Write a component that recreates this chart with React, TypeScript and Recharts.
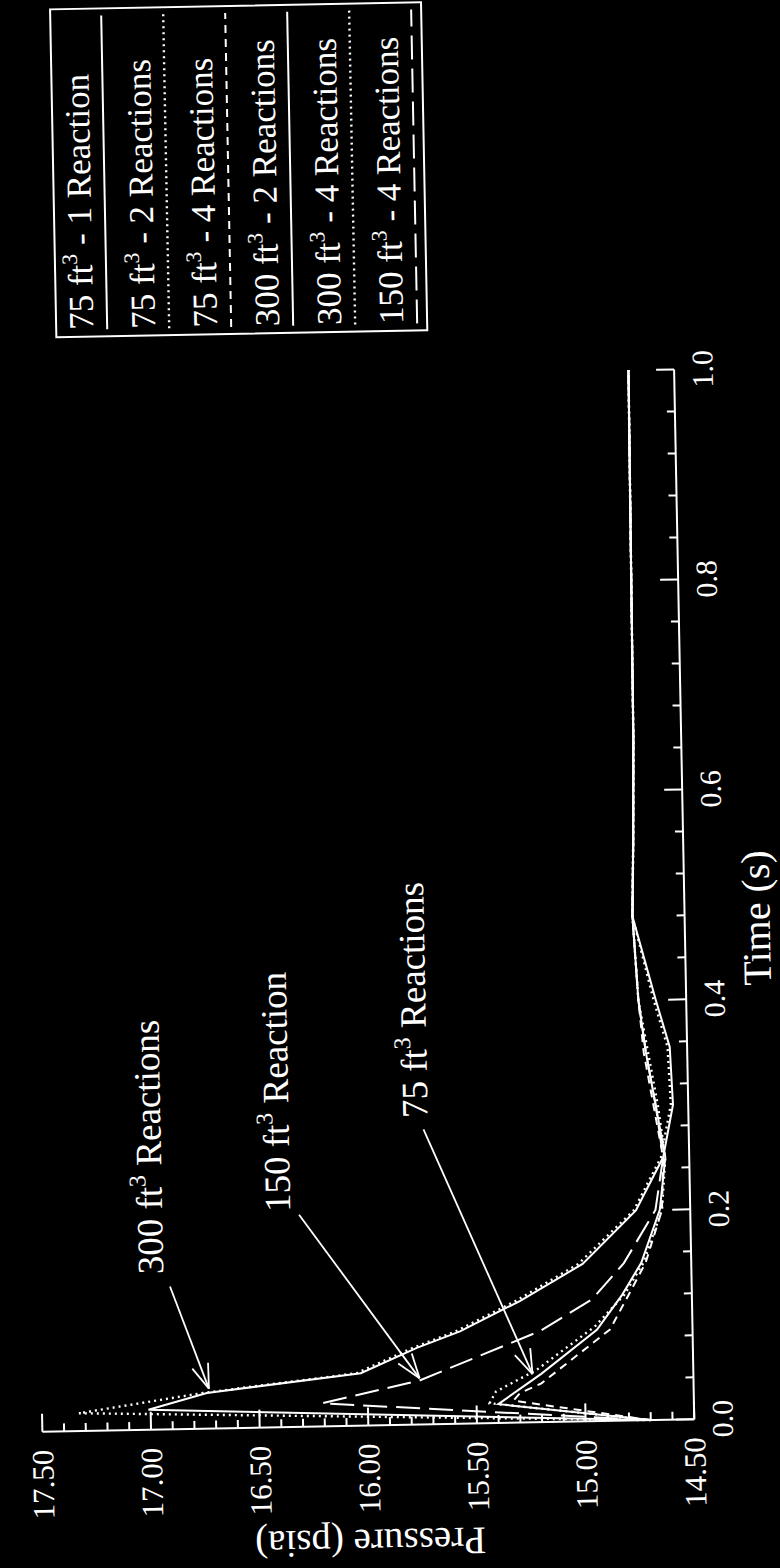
import React from 'react';
import { LineChart, Line, XAxis, YAxis, ReferenceLine, ReferenceDot, Legend } from 'recharts';

// Pressure transient after ignition, for three vessel volumes.
// The whole figure is a scanned negative turned on its side, so the chart is
// drawn normally and then rotated -90deg (plus the scan's small skew).

const FONT = '"Liberation Serif", "Times New Roman", Times, serif';
const INK = '#ffffff';

// time (s) / pressure (psia)
const vol75r1 = [
  { t: 0, p: 14.7 }, { t: 0.018, p: 15.4 }, { t: 0.046, p: 15.2 }, { t: 0.087, p: 14.94 },
  { t: 0.12, p: 14.82 }, { t: 0.15, p: 14.73 }, { t: 0.2, p: 14.64 }, { t: 0.25, p: 14.61 },
  { t: 0.3, p: 14.65 }, { t: 0.35, p: 14.69 }, { t: 0.4, p: 14.72 }, { t: 0.48, p: 14.74 },
  { t: 0.55, p: 14.73 }, { t: 0.65, p: 14.72 }, { t: 1.0, p: 14.71 },
];
const vol75r2 = [
  { t: 0, p: 14.7 }, { t: 0.019, p: 15.44 }, { t: 0.03, p: 15.41 }, { t: 0.05, p: 15.22 },
  { t: 0.09, p: 14.95 }, { t: 0.12, p: 14.81 }, { t: 0.15, p: 14.72 }, { t: 0.2, p: 14.63 },
  { t: 0.25, p: 14.61 }, { t: 0.3, p: 14.64 }, { t: 0.35, p: 14.68 }, { t: 0.4, p: 14.72 },
  { t: 0.48, p: 14.74 }, { t: 0.55, p: 14.73 }, { t: 0.65, p: 14.72 }, { t: 1.0, p: 14.71 },
];
const vol75r4 = [
  { t: 0, p: 14.7 }, { t: 0.021, p: 15.33 }, { t: 0.028, p: 15.3 }, { t: 0.037, p: 15.2 },
  { t: 0.087, p: 14.88 }, { t: 0.12, p: 14.79 }, { t: 0.15, p: 14.71 }, { t: 0.2, p: 14.63 },
  { t: 0.25, p: 14.62 }, { t: 0.3, p: 14.66 }, { t: 0.35, p: 14.7 }, { t: 0.4, p: 14.72 },
  { t: 0.48, p: 14.74 }, { t: 0.55, p: 14.73 }, { t: 0.65, p: 14.72 }, { t: 1.0, p: 14.71 },
];
const vol300r2 = [
  { t: 0, p: 14.7 }, { t: 0.019, p: 17.01 }, { t: 0.034, p: 16.74 }, { t: 0.05, p: 16.03 },
  { t: 0.073, p: 15.77 }, { t: 0.088, p: 15.57 }, { t: 0.116, p: 15.29 }, { t: 0.15, p: 15.0 },
  { t: 0.2, p: 14.75 }, { t: 0.25, p: 14.62 }, { t: 0.3, p: 14.57 }, { t: 0.355, p: 14.58 },
  { t: 0.4, p: 14.64 }, { t: 0.48, p: 14.74 }, { t: 0.55, p: 14.73 }, { t: 0.65, p: 14.72 },
  { t: 1.0, p: 14.71 },
];
const vol300r4 = [
  { t: 0, p: 14.7 }, { t: 0.017, p: 17.33 }, { t: 0.034, p: 16.76 }, { t: 0.05, p: 16.05 },
  { t: 0.073, p: 15.79 }, { t: 0.088, p: 15.59 }, { t: 0.116, p: 15.31 }, { t: 0.15, p: 15.02 },
  { t: 0.2, p: 14.76 }, { t: 0.25, p: 14.63 }, { t: 0.3, p: 14.58 }, { t: 0.355, p: 14.59 },
  { t: 0.4, p: 14.65 }, { t: 0.48, p: 14.74 }, { t: 0.55, p: 14.73 }, { t: 0.65, p: 14.72 },
  { t: 1.0, p: 14.71 },
];
const vol150r4 = [
  { t: 0, p: 14.7 }, { t: 0.022, p: 16.21 }, { t: 0.042, p: 15.76 }, { t: 0.087, p: 15.2 },
  { t: 0.116, p: 14.96 }, { t: 0.15, p: 14.81 }, { t: 0.2, p: 14.66 }, { t: 0.25, p: 14.62 },
  { t: 0.3, p: 14.65 }, { t: 0.35, p: 14.69 }, { t: 0.4, p: 14.72 }, { t: 0.48, p: 14.74 },
  { t: 0.55, p: 14.73 }, { t: 0.65, p: 14.72 }, { t: 1.0, p: 14.71 },
];

const series = [
  { id: 'v75r1', vol: '75', tail: ' - 1 Reaction', data: vol75r1, dash: undefined, width: 2 },
  { id: 'v75r2', vol: '75', tail: ' - 2 Reactions', data: vol75r2, dash: '2 4', width: 2.4 },
  { id: 'v75r4', vol: '75', tail: ' - 4 Reactions', data: vol75r4, dash: '8 6', width: 2 },
  { id: 'v300r2', vol: '300', tail: ' - 2 Reactions', data: vol300r2, dash: undefined, width: 2 },
  { id: 'v300r4', vol: '300', tail: ' - 4 Reactions', data: vol300r4, dash: '2 4', width: 2.4 },
  { id: 'v150r4', vol: '150', tail: ' - 4 Reactions', data: vol150r4, dash: '24 9', width: 2 },
];

// callouts: text start, arrow tail and arrow head, all in data units
const notes = [
  { vol: '300', text: 'Reactions', t: 0.148, p: 16.93, from: { t: 0.136, p: 16.9 }, to: { t: 0.038, p: 16.73 } },
  { vol: '150', text: 'Reaction', t: 0.205, p: 16.34, from: { t: 0.202, p: 16.3 }, to: { t: 0.044, p: 15.76 } },
  { vol: '75', text: 'Reactions', t: 0.292, p: 15.7, from: { t: 0.281, p: 15.72 }, to: { t: 0.046, p: 15.24 } },
];

const timeTicks = Array.from({ length: 26 }, (_, i) => +(i * 0.04).toFixed(2));
const pressureTicks = Array.from({ length: 31 }, (_, i) => +(14.5 + i * 0.1).toFixed(1));

const isMajor = (v: number, step: number) => Math.abs(v / step - Math.round(v / step)) < 1e-6;
const MAJOR = 18;
const MINOR = 8;

function BottomTick({ x, y, payload }: any) {
  const major = isMajor(payload.value, 0.2);
  return (
    <g>
      <line x1={x} y1={y} x2={x} y2={y - (major ? MAJOR : MINOR)} stroke={INK} strokeWidth={2} />
      {major && (
        <text x={x} y={y + 28} textAnchor="middle" dominantBaseline="central"
          fill={INK} fontSize={30} fontFamily={FONT}>
          {payload.value.toFixed(1)}
        </text>
      )}
    </g>
  );
}

function TopTick({ x, y, payload }: any) {
  const major = isMajor(payload.value, 0.2);
  return <line x1={x} y1={y} x2={x} y2={y + (major ? MAJOR : MINOR)} stroke={INK} strokeWidth={2} />;
}

function LeftTick({ x, y, payload }: any) {
  const major = isMajor(payload.value, 0.5);
  return (
    <g>
      <line x1={x} y1={y} x2={x + (major ? MAJOR : MINOR)} y2={y} stroke={INK} strokeWidth={2} />
      {major && (
        <text x={x - 18} y={y} textAnchor="end" dominantBaseline="central"
          fill={INK} fontSize={31} fontFamily={FONT}>
          {payload.value.toFixed(2)}
        </text>
      )}
    </g>
  );
}

function RightTick({ x, y, payload }: any) {
  const major = isMajor(payload.value, 0.5);
  return <line x1={x} y1={y} x2={x - (major ? MAJOR : MINOR)} y2={y} stroke={INK} strokeWidth={2} />;
}

function Arrow({ x1, y1, x2, y2 }: any) {
  const ang = Math.atan2(y2 - y1, x2 - x1);
  const len = 26;
  const a1 = ang + Math.PI - 0.33;
  const a2 = ang + Math.PI + 0.33;
  return (
    <g stroke={INK} strokeWidth={1.8} fill="none">
      <line x1={x1} y1={y1} x2={x2} y2={y2} />
      <line x1={x2} y1={y2} x2={x2 + len * Math.cos(a1)} y2={y2 + len * Math.sin(a1)} />
      <line x1={x2} y1={y2} x2={x2 + len * Math.cos(a2)} y2={y2 + len * Math.sin(a2)} />
    </g>
  );
}

function NoteText({ cx, cy, vol, text }: any) {
  return (
    <text x={cx} y={cy} fill={INK} fontSize={37} fontFamily={FONT} style={{ whiteSpace: 'pre' }}>
      {vol} ft<tspan dy={-16} fontSize={24}>3</tspan><tspan dy={16}>{' ' + text}</tspan>
    </text>
  );
}

function LegendBox() {
  const W = 330;
  const H = 373;
  const row = 62;
  return (
    <svg width={W} height={H} style={{ display: 'block', overflow: 'visible' }}>
      <rect x={1} y={1} width={W - 2} height={H - 2} fill="none" stroke={INK} strokeWidth={2} />
      {series.map((s, i) => (
        <g key={s.id}>
          <text x={8} y={row * i + 38} fill={INK} fontSize={35} fontFamily={FONT} style={{ whiteSpace: 'pre' }}>
            {s.vol} ft<tspan dy={-15} fontSize={22}>3</tspan><tspan dy={15}>{s.tail}</tspan>
          </text>
          <line x1={8} x2={W - 8} y1={row * i + 52} y2={row * i + 52}
            stroke={INK} strokeWidth={s.width} strokeDasharray={s.dash} />
        </g>
      ))}
    </svg>
  );
}

export default function App() {
  return (
    <div style={{ position: 'absolute', left: 0, top: 0, width: 780, height: 1568, background: '#000', overflow: 'hidden' }}>
      <div style={{
        position: 'absolute', left: -394, top: 394, width: 1568, height: 780,
        transform: 'rotate(-91.1deg)', transformOrigin: '50% 50%',
      }}>
        <LineChart width={1568} height={780} margin={{ top: 30, right: 375, bottom: 0, left: 0 }}>
          <XAxis xAxisId="b" type="number" dataKey="t" domain={[0, 1]} ticks={timeTicks} interval={0}
            height={98} tickLine={false} tickSize={0} tickMargin={0} tick={<BottomTick />}
            axisLine={{ stroke: INK, strokeWidth: 2 }}
            label={{ value: 'Time (s)', position: 'insideBottom', offset: 13, dx: -25,
              fill: INK, fontSize: 40, fontFamily: FONT }} />
          <XAxis xAxisId="t" orientation="top" type="number" dataKey="t" domain={[0, 1]} ticks={timeTicks}
            interval={0} height={0} tickLine={false} tickSize={0} tickMargin={0} tick={<TopTick />}
            axisLine={{ stroke: INK, strokeWidth: 2 }} />
          <YAxis yAxisId="l" type="number" domain={[14.5, 17.5]} ticks={pressureTicks} interval={0}
            width={143} tickLine={false} tickSize={0} tickMargin={0} tick={<LeftTick />}
            axisLine={{ stroke: INK, strokeWidth: 2 }}
            label={{ value: 'Pressure (psia)', angle: -90, position: 'insideLeft', offset: 25,
              fill: INK, fontSize: 39, fontFamily: FONT, style: { textAnchor: 'middle' } }} />
          <YAxis yAxisId="r" orientation="right" type="number" domain={[14.5, 17.5]} ticks={pressureTicks}
            interval={0} width={0} tickLine={false} tickSize={0} tickMargin={0} tick={<RightTick />}
            axisLine={{ stroke: INK, strokeWidth: 2 }} />

          {series.map((s) => (
            <Line key={s.id} xAxisId="b" yAxisId="l" data={s.data} dataKey="p" name={s.id}
              type="linear" stroke={INK} strokeWidth={s.width} strokeDasharray={s.dash}
              dot={false} activeDot={false} isAnimationActive={false} />
          ))}

          {notes.map((n) => (
            <ReferenceLine key={'a' + n.vol} xAxisId="b" yAxisId="l"
              segment={[{ x: n.from.t, y: n.from.p }, { x: n.to.t, y: n.to.p }]}
              shape={<Arrow />} />
          ))}
          {notes.map((n) => (
            <ReferenceDot key={'n' + n.vol} xAxisId="b" yAxisId="l" x={n.t} y={n.p} r={0}
              shape={<NoteText vol={n.vol} text={n.text} />} />
          ))}

          <Legend layout="horizontal" align="center" verticalAlign="middle" content={<LegendBox />}
            wrapperStyle={{ left: 1236, top: 64, width: 330, height: 373 }} />
        </LineChart>
      </div>
    </div>
  );
}
